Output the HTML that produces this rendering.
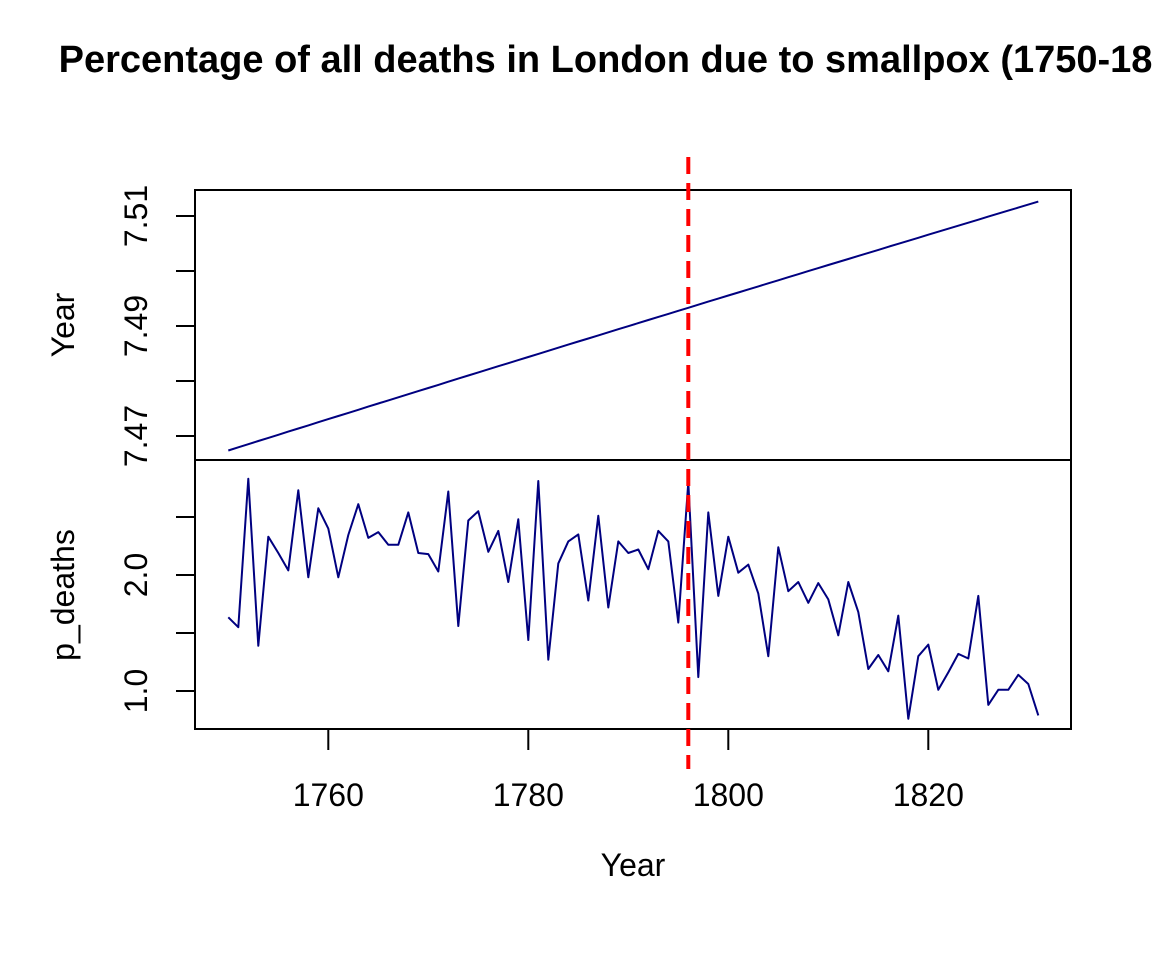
<!DOCTYPE html>
<html><head><meta charset="utf-8"><style>
html,body{margin:0;padding:0;background:#fff;}
svg{display:block;font-family:"Liberation Sans",Arial,sans-serif;}
</style></head><body>
<svg id="chart" width="1152" height="960" viewBox="0 0 1152 960">
<text x="633" y="72" text-anchor="middle" font-size="38" font-weight="bold">Percentage of all deaths in London due to smallpox (1750-1831)</text>
<g id="plot"></g>
</svg>
<script>
const startYear = 1750;
const pDeaths = [1.635,1.55,2.83,1.39,2.33,2.19,2.04,2.73,1.98,2.575,2.40,1.98,2.345,2.61,2.32,2.37,2.26,2.26,2.54,2.19,2.18,2.03,2.72,1.56,2.47,2.55,2.20,2.38,1.94,2.48,1.44,2.81,1.27,2.10,2.29,2.35,1.78,2.51,1.72,2.29,2.19,2.22,2.05,2.38,2.29,1.59,2.80,1.12,2.54,1.82,2.33,2.02,2.09,1.84,1.30,2.24,1.86,1.94,1.76,1.93,1.79,1.48,1.94,1.68,1.19,1.31,1.17,1.65,0.76,1.30,1.40,1.01,1.16,1.32,1.28,1.82,0.88,1.01,1.01,1.14,1.06,0.79];
const years = pDeaths.map((_, i) => startYear + i);
const logYear = years.map(y => Math.log(y));
const xTicks = [1760,1780,1800,1820];
const topTicks = [7.47,7.48,7.49,7.50,7.51];
const topLabels = ["7.47","","7.49","","7.51"];
const botTicks = [1.0,1.5,2.0,2.5];
const botLabels = ["1.0","","2.0",""];
const vaccinationYear = 1796;

const NS = "http://www.w3.org/2000/svg";
const g = document.getElementById('plot');
const L = 195, R = 1071, T = 190, M = 460, B = 729;
const xs = y => 228.3 + (y - 1750) * 10;
const yTop = v => 436 - (v - 7.47) * 5500;
const yBot = v => 691 - (v - 1.0) * 116;
function mk(tag, attrs, parent) {
  const e = document.createElementNS(NS, tag);
  for (const k in attrs) e.setAttribute(k, attrs[k]);
  (parent || g).appendChild(e);
  return e;
}
let e = mk('rect', {x:L, y:T, width:R-L, height:M-T, fill:'none', stroke:'#000', 'stroke-width':2});


e = mk('rect', {x:L, y:M, width:R-L, height:B-M, fill:'none', stroke:'#000', 'stroke-width':2});


e = mk('polyline', {points: years.map((y,i)=>xs(y).toFixed(1)+','+yTop(logYear[i]).toFixed(1)).join(' '), fill:'none', stroke:'#000080', 'stroke-width':2});


e = mk('polyline', {points: years.map((y,i)=>xs(y).toFixed(1)+','+yBot(pDeaths[i]).toFixed(1)).join(' '), fill:'none', stroke:'#000080', 'stroke-width':2, 'stroke-linejoin':'round'});


topTicks.forEach((v,i)=>{
  const y = yTop(v);
  const t = mk('line', {x1:L-19, x2:L, y1:y, y2:y, stroke:'#000', 'stroke-width':2});
  
  
  if (topLabels[i]) {
    const tx = mk('text', {x:0, y:0, transform:`translate(147,${y}) rotate(-90)`, 'text-anchor':'middle', 'font-size':32});
    tx.textContent = topLabels[i];
    
    
  }
});
botTicks.forEach((v,i)=>{
  const y = yBot(v);
  const t = mk('line', {x1:L-19, x2:L, y1:y, y2:y, stroke:'#000', 'stroke-width':2});
  
  
  if (botLabels[i]) {
    const tx = mk('text', {x:0, y:0, transform:`translate(147,${y}) rotate(-90)`, 'text-anchor':'middle', 'font-size':32});
    tx.textContent = botLabels[i];
    
    
  }
});
xTicks.forEach(v=>{
  const x = xs(v);
  const t = mk('line', {x1:x, x2:x, y1:B, y2:B+21, stroke:'#000', 'stroke-width':2});
  
  
  const tx = mk('text', {x:x, y:806, 'text-anchor':'middle', 'font-size':32});
  tx.textContent = v;
  
  
});
e = mk('text', {x:0, y:0, transform:'translate(74,325) rotate(-90)', 'text-anchor':'middle', 'font-size':32});
e.textContent = 'Year';


e = mk('text', {x:0, y:0, transform:'translate(74,595) rotate(-90)', 'text-anchor':'middle', 'font-size':32});
e.textContent = 'p_deaths';


e = mk('text', {x:633, y:876, 'text-anchor':'middle', 'font-size':32});
e.textContent = 'Year';


const vx = xs(vaccinationYear);
e = mk('line', {x1:vx, x2:vx, y1:157, y2:769, stroke:'#ff0000', 'stroke-width':4, 'stroke-dasharray':'17 9'});


</script>
</body></html>
